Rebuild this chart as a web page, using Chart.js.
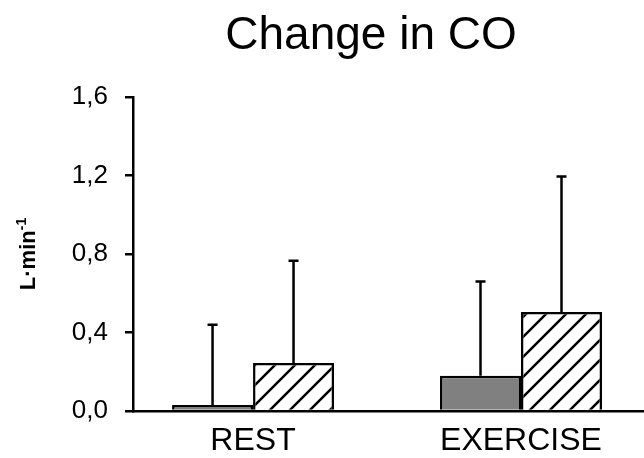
<!DOCTYPE html>
<html>
<head>
<meta charset="utf-8">
<script src="https://cdn.jsdelivr.net/npm/chart.js@4"></script>
<style>
  html, body { margin: 0; padding: 0; background: #fff; }
  #wrap { width: 644px; height: 458px; }
</style>
</head>
<body>
<div id="wrap"><canvas id="coChart" width="644" height="458"></canvas></div>
<script>
const categories = ['REST', 'EXERCISE'];
const seriesA = [0.03, 0.18];        // solid grey bars
const seriesAErr = [0.41, 0.48];
const seriesB = [0.245, 0.505];      // hatched bars
const seriesBErr = [0.52, 0.69];
const yTicks = [0, 0.4, 0.8, 1.2, 1.6];

const FONT = '"Liberation Sans", Arial, sans-serif';

// diagonal hatch fill
function hatchPattern() {
    const c = document.createElement('canvas');
    c.width = 20;
    c.height = 20;
    const g = c.getContext('2d');
    g.fillStyle = '#fff';
    g.fillRect(0, 0, 20, 20);
    g.strokeStyle = '#000';
    g.lineWidth = 2.5;
    g.beginPath();
    g.moveTo(-5, 25); g.lineTo(25, -5);
    g.moveTo(-15, 15); g.lineTo(5, -5);
    g.moveTo(15, 25); g.lineTo(25, 15);
    g.stroke();
    return g.createPattern(c, 'repeat');
}

// upward error bars with a cap
const errorBars = {
    id: 'errorBars',
    afterDatasetsDraw(chart) {
        const ctx = chart.ctx;
        const y = chart.scales.y;
        const errs = [seriesAErr, seriesBErr];
        ctx.save();
        ctx.strokeStyle = '#000';
        ctx.lineWidth = 2.5;
        chart.data.datasets.forEach((ds, di) => {
            chart.getDatasetMeta(di).data.forEach((bar, i) => {
                const top = y.getPixelForValue(ds.data[i].y + errs[di][i]);
                ctx.beginPath();
                ctx.moveTo(bar.x, bar.y);
                ctx.lineTo(bar.x, top);
                ctx.moveTo(bar.x - 5, top);
                ctx.lineTo(bar.x + 5, top);
                ctx.stroke();
            });
        });
        ctx.restore();
    }
};

// chart title and the rotated unit label with its superscript
const labels = {
    id: 'labels',
    afterDraw(chart) {
        const ctx = chart.ctx;
        const area = chart.chartArea;
        ctx.save();
        ctx.fillStyle = '#000';
        ctx.font = '46px ' + FONT;
        ctx.textAlign = 'center';
        ctx.textBaseline = 'alphabetic';
        ctx.fillText('Change in CO', 371, 49);

        const base = 'L·min';
        const sup = '-1';
        ctx.font = 'bold 22px ' + FONT;
        const wBase = ctx.measureText(base).width;
        ctx.font = 'bold 14px ' + FONT;
        const wSup = ctx.measureText(sup).width;
        ctx.translate(35, (area.top + area.bottom) / 2);
        ctx.rotate(-Math.PI / 2);
        ctx.textAlign = 'left';
        const x0 = -(wBase + wSup) / 2;
        ctx.font = 'bold 22px ' + FONT;
        ctx.fillText(base, x0, 0);
        ctx.font = 'bold 14px ' + FONT;
        ctx.fillText(sup, x0 + wBase, -9);
        ctx.restore();
    }
};

new Chart(document.getElementById('coChart'), {
    type: 'bar',
    data: {
        datasets: [{
            data: categories.map((c, i) => ({ x: i, y: seriesA[i] })),
            backgroundColor: '#808080',
            borderColor: '#000',
            borderWidth: 2.5,
            borderSkipped: 'bottom'
        }, {
            data: categories.map((c, i) => ({ x: i, y: seriesB[i] })),
            backgroundColor: hatchPattern(),
            borderColor: '#000',
            borderWidth: 2.5,
            borderSkipped: 'bottom'
        }]
    },
    options: {
        responsive: false,
        animation: false,
        layout: { padding: { top: 97, right: 0, bottom: 0, left: 0 } },
        datasets: { bar: { categoryPercentage: 0.6045, barPercentage: 1 } },
        plugins: { legend: { display: false }, tooltip: { enabled: false } },
        scales: {
            x: {
                type: 'linear',
                offset: false,
                min: -0.448,
                max: 1.459,
                afterBuildTicks: (axis) => { axis.ticks = categories.map((c, i) => ({ value: i })); },
                afterFit: (axis) => { axis.height = 47; },
                ticks: {
                    callback: (v) => categories[v],
                    color: '#000',
                    font: { family: FONT, size: 32 },
                    padding: 11,
                    maxRotation: 0,
                    autoSkip: false
                },
                grid: { display: false, drawTicks: false, offset: false },
                border: { color: '#000', width: 2.5 }
            },
            y: {
                min: 0,
                max: 1.6,
                afterBuildTicks: (axis) => { axis.ticks = yTicks.map(v => ({ value: v })); },
                afterFit: (axis) => { axis.width = 133; },
                ticks: {
                    callback: (v) => v.toFixed(1).replace('.', ','),
                    color: '#000',
                    font: { family: FONT, size: 26 },
                    padding: 17
                },
                grid: { drawOnChartArea: false, drawTicks: true, tickLength: 8, color: '#000', lineWidth: 2.5 },
                border: { color: '#000', width: 2.5 }
            }
        }
    },
    plugins: [errorBars, labels]
});
</script>
</body>
</html>
